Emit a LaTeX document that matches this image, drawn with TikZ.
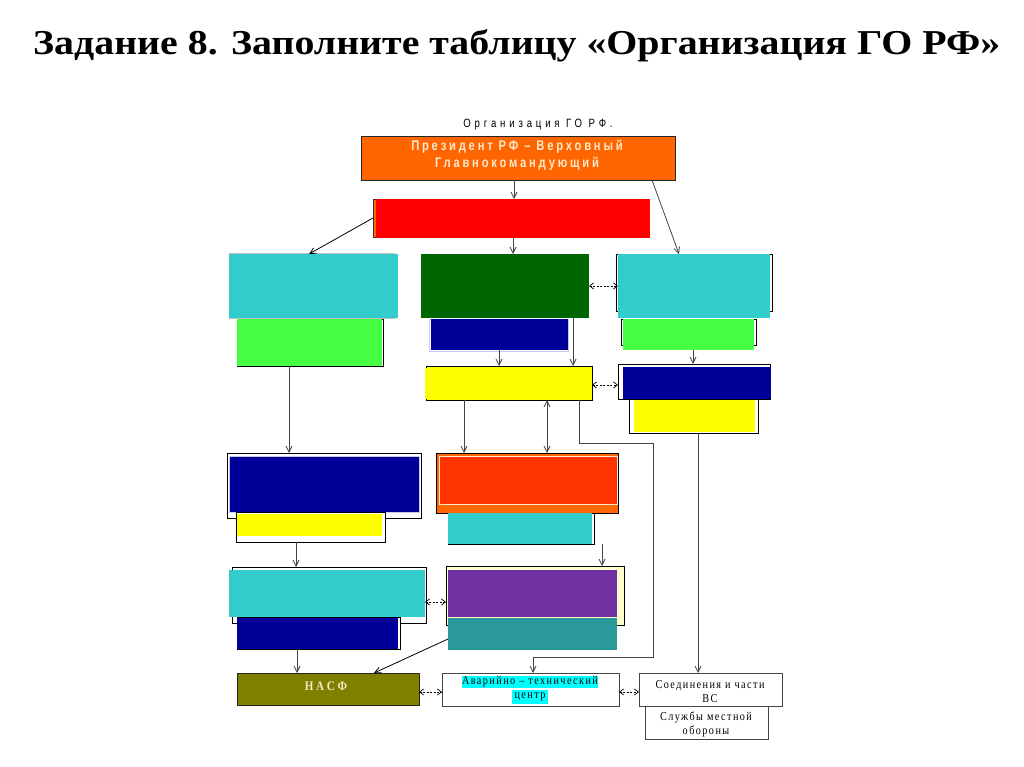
\documentclass[tikz,border=0pt]{standalone}
\usepackage{fontspec}
\setmainfont{Liberation Serif}
\newfontfamily\dsans[FakeStretch=0.8]{Liberation Sans}
\newfontfamily\dserif[FakeStretch=0.85]{Liberation Serif}
\usetikzlibrary{arrows.meta,fit}
\definecolor{cpres}{HTML}{FF6600}
\definecolor{cred}{HTML}{FF0000}
\definecolor{ccyan}{HTML}{33CCCC}
\definecolor{clgreen}{HTML}{44FF44}
\definecolor{cdgreen}{HTML}{006600}
\definecolor{cnavy}{HTML}{000099}
\definecolor{cyel}{HTML}{FFFF00}
\definecolor{corr}{HTML}{FF3300}
\definecolor{cpurp}{HTML}{7030A0}
\definecolor{cteal}{HTML}{299999}
\definecolor{colive}{HTML}{808000}
\definecolor{ccream}{HTML}{FFFFCC}
\definecolor{chl}{HTML}{00FFFF}
\definecolor{ctxt}{HTML}{FFE8CC}
\definecolor{cnasf}{HTML}{F2EEC8}
\definecolor{clav}{HTML}{C8C8F0}
\definecolor{cline}{HTML}{444444}
\tikzset{
  box/.style={inner sep=0pt, outer sep=0pt},
  frame/.style={box, draw=black, line width=0.8pt, fill=white},
  conn/.style={draw=cline, line width=0.8pt},
  arr/.style={conn, -{Straight Barb[length=6pt,width=6pt]}},
  barr/.style={conn, {Straight Barb[length=6pt,width=6pt]}-{Straight Barb[length=6pt,width=6pt]}},
  darr/.style={draw=black, line width=0.7pt, dash pattern=on 2pt off 1.5pt,
    {Straight Barb[length=4pt,width=6pt]}-{Straight Barb[length=4pt,width=6pt]}},
  sanstxt/.style={inner sep=0pt, align=center},
  bottxt/.style={sanstxt, font={\dserif\addfontfeature{LetterSpace=12}\fontsize{12}{14}\selectfont}},
}
\begin{document}
\begin{tikzpicture}[x=1pt,y=-1pt]
\useasboundingbox[fill=white] (0,0) rectangle (1024,767);
% title
\node[anchor=base west, inner sep=0pt] (title) at (33,55)
  {\resizebox{967pt}{25pt}{\bfseries Задание 8. Заполните таблицу «Организация ГО РФ»}};
\node[sanstxt, font={\dsans\addfontfeature{LetterSpace=32}\fontsize{12}{14}\selectfont}] (otitle) at (538,125) {Организация ГО РФ.};
% president
\node[box, fill=cpres, draw=black!85, line width=0.8pt, fit={(361,136)(675,180)}] (pres) {};
\node[sanstxt, text=ctxt, font={\dsans\bfseries\addfontfeature{LetterSpace=20}\fontsize{14}{17}\selectfont}] (prestxt) at (517,155) {Президент РФ – Верховный\\Главнокомандующий};
% red
\node[frame, draw=black!80, fill=cpres, fit={(373,199)(648,237)}] (redfr) {};
\node[box, fill=cred, fit={(376,199)(650,238)}] (red) {};
% row 2 left
\node[frame, draw=black!25, fit={(229,253)(394,318)}] (cyanLfr) {};
\node[box, fill=ccyan, fit={(229,254)(398,318)}] (cyanL) {};
\node[frame, fit={(237,319)(383,366)}] (greenLfr) {};
\node[box, fill=clgreen, fit={(237,319)(381.5,366)}] (greenL) {};
% row 2 center
\node[box, fill=cdgreen, fit={(421,254)(589,318)}] (dgreen) {};
\node[frame, draw=clav, fit={(429,319)(568,351)}] (navyCfr) {};
\node[box, fill=cnavy, fit={(431,319)(568,350)}] (navyC) {};
\node[frame, fill=cyel, fit={(426,366)(592,400)}] (yelCfr) {};
\node[box, fill=cyel, fit={(425,367.5)(590.5,398.5)}] (yelC) {};
% row 2 right
\node[frame, fit={(616,254)(772,311)}] (cyanRfr) {};
\node[box, fill=ccyan, fit={(618,254)(770,318)}] (cyanR) {};
\node[frame, fit={(621,319)(756,345)}] (greenRfr) {};
\node[box, fill=clgreen, fit={(623,319)(754,350)}] (greenR) {};
\node[frame, fit={(618,364)(770,399)}] (navyRfr) {};
\node[box, fill=cnavy, fit={(623,367)(771,399)}] (navyR) {};
\node[frame, fit={(629,399)(758,433)}] (yelRfr) {};
\node[box, fill=cyel, fit={(634,400)(755,432)}] (yelR) {};
% row 3 left
\node[frame, fit={(227,453)(421,518)}] (navyLfr) {};
\node[box, fill=cnavy, draw=clav, line width=0.6pt, fit={(229,456)(419,512)}] (navyL) {};
\node[frame, fit={(236,512)(385,542)}] (yelLfr) {};
\node[box, fill=cyel, fit={(237,514)(382,536)}] (yelL) {};
% row 3 center
\node[frame, fill=cpres, fit={(436,453)(618,513)}] (orgfr) {};
\node[box, fill=corr, draw=ctxt, line width=0.6pt, fit={(439,456)(617,504)}] (org) {};
\node[frame, fit={(448,513)(594,544)}] (cyanCfr) {};
\node[box, fill=ccyan, fit={(448,513)(592,544)}] (cyanC) {};
% row 4 left
\node[frame, fit={(232,567)(426,623)}] (cyanL2fr) {};
\node[box, fill=ccyan, fit={(229,570)(425,617)}] (cyanL2) {};
\node[frame, fit={(237,617)(400,649)}] (navyL2fr) {};
\node[box, fill=cnavy, fit={(237,618)(398,649)}] (navyL2) {};
% row 4 center
\node[frame, fill=ccream, fit={(446,566)(624,625)}] (purpfr) {};
\node[box, fill=cpurp, fit={(448,570)(617,617)}] (purp) {};
\node[box, fill=cteal, fit={(448,618)(617,650)}] (teal) {};
% bottom row
\node[box, fill=colive, draw=black!85, line width=0.8pt, fit={(237,673)(419,705)}] (nasf) {};
\node[sanstxt, text=cnasf, font={\dserif\bfseries\fontsize{13}{15}\selectfont}] (nasftxt) at (326,686) {Н А С Ф};
\node[box, fill=white, draw=cline, line width=0.8pt, fit={(442,673)(619,706)}] (atc) {};
\node[bottxt] (atctxt) at (530,690)
  {\setlength{\fboxsep}{0.5pt}\colorbox{chl}{Аварийно – технический}\\\colorbox{chl}{центр}};
\node[box, fill=white, draw=cline, line width=0.8pt, fit={(639,673)(782,706)}] (vs) {};
\node[bottxt] (vstxt) at (710,692) {Соединения и части\\ВС};
\node[box, fill=white, draw=cline, line width=0.8pt, fit={(645,706)(768,739)}] (slm) {};
\node[bottxt] (slmtxt) at (706,724) {Службы местной\\обороны};
% connectors
\draw[arr] (pres.south -| 514,0) -- (red.north -| 514,0);
\draw[arr] (pres.south -| 652,0) -- (cyanR.north -| 679,0);
\draw[arr, draw=black] (redfr.west) -- (cyanL.north -| 309,0);
\draw[arr] (red.south -| 513,0) -- (dgreen.north -| 513,0);
\draw[darr] (dgreen.east |- 0,286) -- (cyanR.west |- 0,286);
\draw[arr] (navyC.south -| 499,0) -- (yelCfr.north -| 499,0);
\draw[arr] (dgreen.south -| 573,0) -- (yelCfr.north -| 573,0);
\draw[arr] (greenR.south -| 693,0) -- (navyRfr.north -| 693,0);
\draw[darr] (yelCfr.east |- 0,385) -- (navyRfr.west |- 0,385);
\draw[arr] (greenL.south -| 289,0) -- (navyLfr.north -| 289,0);
\draw[arr] (yelCfr.south -| 464,0) -- (orgfr.north -| 464,0);
\draw[barr] (yelCfr.south -| 547,0) -- (orgfr.north -| 547,0);
\draw[arr] (yelCfr.south -| 579,0) -- (579,443) -- (653,443) -- (653,657) -- (533,657) -- (atc.north -| 533,0);
\draw[arr] (yelLfr.south -| 296,0) -- (cyanL2fr.north -| 296,0);
\draw[arr] (cyanCfr.south -| 602,0) -- (purpfr.north -| 602,0);
\draw[darr] (cyanL2.east |- 0,602) -- (purpfr.west |- 0,602);
\draw[arr] (navyL2.south -| 297,0) -- (nasf.north -| 297,0);
\draw[arr, draw=black] (teal.west |- 0,639) -- (nasf.north -| 374,0);
\draw[darr] (nasf.east |- 0,692) -- (atc.west |- 0,692);
\draw[darr] (atc.east |- 0,692) -- (vs.west |- 0,692);
\draw[arr] (yelRfr.south -| 698,0) -- (vs.north -| 698,0);
\end{tikzpicture}
\end{document}
